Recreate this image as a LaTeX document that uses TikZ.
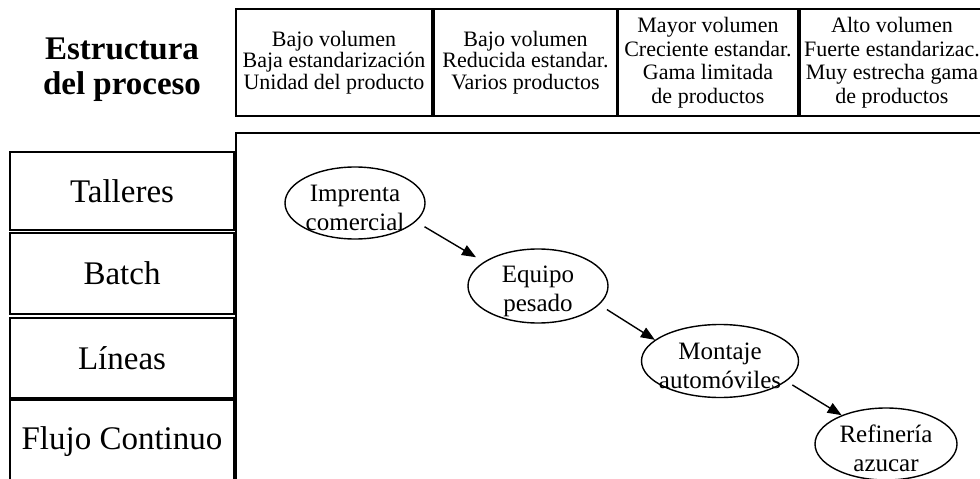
\documentclass[tikz,border=0pt]{standalone}
\usepackage{fontspec}
\setmainfont{Liberation Serif}
\usetikzlibrary{shapes.geometric,arrows.meta}
\begin{document}
\begin{tikzpicture}[x=1pt,y=-1pt,
  hbox/.style={draw,line width=1.8pt,minimum height=107pt,inner sep=0pt,align=center,font=\fontsize{22}{21.5}\selectfont},
  hbox4/.style={hbox,font=\fontsize{22}{23.5}\selectfont},
  lbox/.style={draw,line width=1.8pt,minimum width=224pt,inner sep=0pt,font=\fontsize{33}{36}\selectfont},
  ell/.style={draw,ellipse,line width=1.4pt,inner sep=0pt},
  etext/.style={align=center,inner sep=0pt,font=\fontsize{25}{29}\selectfont},
  arr/.style={line width=1.4pt,-{Triangle[length=14pt,width=11pt]}}
]
\useasboundingbox (0,0) rectangle (980,479);
\clip (0,0) rectangle (980,479);
\fill[white] (0,0) rectangle (980,479);

% title
\node[align=center,font=\fontsize{33}{35}\selectfont\bfseries,inner sep=0pt] (title) at (122,70) {Estructura\\del proceso};

% header boxes
\node[hbox,minimum width=196pt] (h1) at (334,62.5) {Bajo volumen\\Baja estandarización\\Unidad del producto};
\node[hbox,minimum width=183pt] (h2) at (525.5,62.5) {Bajo volumen\\Reducida estandar.\\Varios productos};
\node[hbox4,minimum width=180pt] (h3) at (708,62.5) {Mayor volumen\\Creciente estandar.\\Gama limitada\\de productos};
\node[hbox4,minimum width=184pt] (h4) at (892,62.5) {Alto volumen\\Fuerte estandarizac.\\Muy estrecha gama\\de productos};

% big area
\draw[line width=1.8pt] (236,500) -- (236,133) -- (1000,133);
\coordinate (bigtl) at (236,133);

% left boxes
\node[lbox,minimum height=78pt] (t) at (122,191) {Talleres};
\node[lbox,minimum height=81pt] (b) at (122,273.5) {Batch};
\node[lbox,minimum height=80pt] (l) at (122,358) {Líneas};
\node[lbox,minimum height=100pt] (f) at (122,450) {};
\node[font=\fontsize{33}{36}\selectfont,inner sep=0pt] (ft) at (122,442) {Flujo Continuo};

% ellipses
\node[ell,minimum width=140pt,minimum height=72pt] (im) at (355,203) {};
\node[etext] (imt) at (355,208) {Imprenta\\comercial};
\node[ell,minimum width=140pt,minimum height=74pt] (eq) at (538,286) {};
\node[etext] (eqt) at (538,291) {Equipo\\pesado};
\node[ell,minimum width=157pt,minimum height=73pt] (mo) at (720,361) {};
\node[etext] (mot) at (720,366) {Montaje\\automóviles};
\node[ell,minimum width=142pt,minimum height=72pt] (re) at (886,444) {};
\node[etext] (ret) at (886,448) {Refinería\\azucar};

% arrows
\draw[arr,shorten <=10pt,shorten >=9pt] (im.-17) -- (eq.156);
\draw[arr,shorten <=9pt] (eq.-17) -- (mo.162);
\draw[arr,shorten <=7pt] (mo.-17) -- (re.147);
\end{tikzpicture}
\end{document}
